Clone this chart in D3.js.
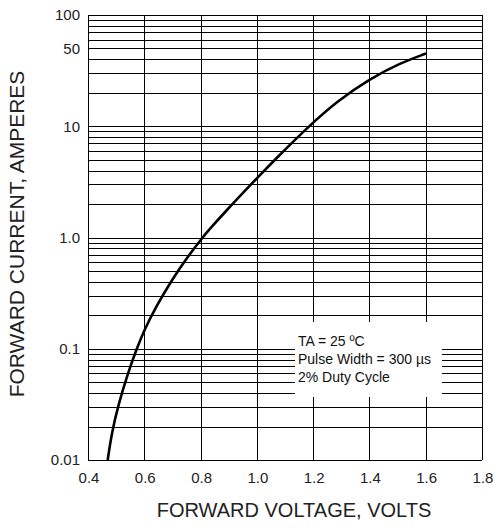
<!DOCTYPE html>
<html>
<head>
<meta charset="utf-8">
<title>Forward Voltage vs Forward Current</title>
<style>
    html, body {margin: 0px; padding: 0px; background: #ffffff; overflow: hidden;}
    svg {display: block; font-family: "Liberation Sans", Arial, sans-serif;}
    .grid line {stroke: #000; stroke-width: 1; shape-rendering: crispEdges;}
    .tick-label {fill: #222; font-size: 15px;}
    .axis-title {fill: #222; font-size: 20px;}
    .note {fill: #111; font-size: 14px;}
</style>
</head>
<body>
<div id="chart"></div>
<script src="https://cdn.jsdelivr.net/npm/d3@7"></script>
<script>
// values
var voltage = [0.470, 0.484, 0.508, 0.543, 0.573, 0.600, 0.644, 0.697, 0.756, 0.802,
               0.834, 0.893, 0.952, 1.003, 1.071, 1.130, 1.201, 1.284, 1.400, 1.509, 1.601];
var current = [0.0100, 0.0174, 0.0316, 0.0617, 0.100, 0.148, 0.244, 0.412, 0.681, 0.966,
               1.205, 1.762, 2.54, 3.47, 5.21, 7.33, 10.9, 16.7, 26.6, 36.9, 45.1];

var xTicks = [0.4, 0.6, 0.8, 1.0, 1.2, 1.4, 1.6, 1.8];
var xTickLabels = ["0.4", "0.6", "0.8", "1.0", "1.2", "1.4", "1.6", "1.8"];
var yTicks = [0.01, 0.1, 1, 10, 50, 100];
var yTickLabels = ["0.01", "0.1", "1.0", "10", "50", "100"];
var decades = [0.01, 0.1, 1, 10];
var minorSteps = [1, 2, 3, 4, 5, 6, 7, 8, 9];

var noteLines = ["TA = 25 \u00baC", "Pulse Width = 300 \u00b5s", "2% Duty Cycle"];

var xTitle = "FORWARD VOLTAGE, VOLTS";
var yTitle = "FORWARD CURRENT, AMPERES";

// layout
var width = 495, height = 529;
var margin = {top: 15, right: 13, bottom: 69, left: 88};
var plotW = width - margin.left - margin.right,
    plotH = height - margin.top - margin.bottom;

var svg = d3.select("#chart").append("svg")
    .attr("width", width)
    .attr("height", height);

var g = svg.append("g")
    .attr("transform", "translate(" + margin.left + "," + margin.top + ")");

var x = d3.scaleLinear().domain([0.4, 1.8]).range([0, plotW]);
var y = d3.scaleLog().domain([0.01, 100]).range([plotH, 0]);

// grid: every 1..9 step of each decade, plus the top
var hValues = [];
decades.forEach(function(d) {
    minorSteps.forEach(function(m) { hValues.push(d * m); });
});
hValues.push(100);

var grid = g.append("g").attr("class", "grid");

grid.selectAll(".h")
    .data(hValues)
  .enter().append("line")
    .attr("class", "h")
    .attr("x1", 0)
    .attr("x2", plotW)
    .attr("y1", function(d) { return Math.round(y(d)) + 0.5; })
    .attr("y2", function(d) { return Math.round(y(d)) + 0.5; });

grid.selectAll(".v")
    .data(xTicks)
  .enter().append("line")
    .attr("class", "v")
    .attr("x1", function(d) { return Math.round(x(d)) + 0.5; })
    .attr("x2", function(d) { return Math.round(x(d)) + 0.5; })
    .attr("y1", 0)
    .attr("y2", plotH);

// white box behind the test conditions note
g.append("rect")
    .attr("x", 207)
    .attr("y", 307)
    .attr("width", 147)
    .attr("height", 75)
    .attr("fill", "#fff");

// the curve
var pts = d3.zip(voltage, current);
var line = d3.line()
    .x(function(d) { return x(d[0]); })
    .y(function(d) { return y(d[1]); })
    .curve(d3.curveBasis);

g.append("path")
    .datum(pts)
    .attr("d", line)
    .attr("fill", "none")
    .attr("stroke", "#000")
    .attr("stroke-width", 2.6)
    .attr("stroke-linecap", "butt");

// tick labels
g.selectAll(".xl")
    .data(xTicks)
  .enter().append("text")
    .attr("class", "tick-label")
    .attr("x", function(d) { return x(d) + 1; })
    .attr("y", plotH + 23)
    .attr("text-anchor", "middle")
    .text(function(d, i) { return xTickLabels[i]; });

g.selectAll(".yl")
    .data(yTicks)
  .enter().append("text")
    .attr("class", "tick-label")
    .attr("x", -8)
    .attr("y", function(d) { return y(d); })
    .attr("dy", "0.36em")
    .attr("text-anchor", "end")
    .text(function(d, i) { return yTickLabels[i]; });

// note
g.append("g")
    .attr("transform", "translate(210,331)")
  .selectAll("text")
    .data(noteLines)
  .enter().append("text")
    .attr("class", "note")
    .attr("y", function(d, i) { return i * 18; })
    .text(function(d) { return d; });

// axis titles
svg.append("text")
    .attr("class", "axis-title")
    .attr("x", 294)
    .attr("y", 517)
    .attr("text-anchor", "middle")
    .text(xTitle);

svg.append("text")
    .attr("class", "axis-title")
    .attr("transform", "translate(24,234) rotate(-90)")
    .attr("text-anchor", "middle")
    .style("font-size", "21px")
    .text(yTitle);
</script>
</body>
</html>
